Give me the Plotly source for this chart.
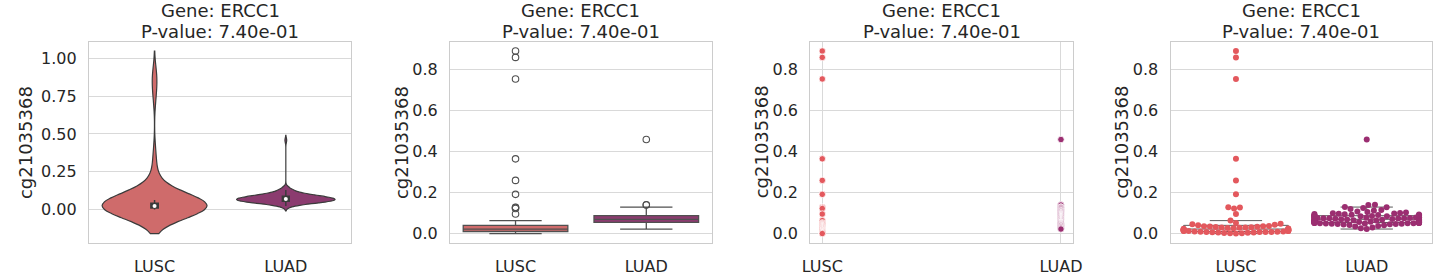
import numpy as np
import plotly.graph_objects as go

# ---------------- data ----------------
categories = ["LUSC", "LUAD"]
gene = "ERCC1"
probe = "cg21035368"
p_value_text = "7.40e-01"

lusc_values = [
    0.889, 0.858, 0.753, 0.364, 0.259, 0.191, 0.128, 0.127, 0.122, 0.095,
    0.063, 0.052, 0.048, 0.045, 0.043, 0.040,
    0.037, 0.036, 0.035, 0.034, 0.033, 0.032, 0.031, 0.030, 0.029, 0.028,
    0.027, 0.026, 0.025, 0.024, 0.023,
    0.021, 0.020, 0.020, 0.019, 0.018, 0.018, 0.017, 0.016, 0.015, 0.015,
    0.014, 0.013, 0.013, 0.012, 0.012,
    0.010, 0.010, 0.009, 0.009, 0.008, 0.008, 0.007, 0.007, 0.006, 0.005,
    0.005, 0.004, 0.003, 0.002, 0.001, 0.000,
]
luad_values = [
    0.458, 0.140, 0.139,
    0.129, 0.128, 0.125, 0.120, 0.115, 0.112, 0.108, 0.105, 0.102, 0.100,
    0.099, 0.098, 0.096, 0.095, 0.094, 0.093, 0.092, 0.091, 0.090, 0.089,
    0.088, 0.088,
    0.086, 0.086, 0.085, 0.084, 0.084, 0.083, 0.082, 0.081, 0.080, 0.080,
    0.079, 0.078, 0.078, 0.077, 0.076, 0.076, 0.075, 0.074, 0.074, 0.073,
    0.072, 0.072, 0.071, 0.071, 0.070,
    0.069, 0.069, 0.068, 0.067, 0.067, 0.066, 0.065, 0.065, 0.064, 0.063,
    0.063, 0.062, 0.061, 0.061, 0.060, 0.060, 0.059, 0.058, 0.058, 0.057,
    0.057, 0.056, 0.055, 0.055, 0.054,
    0.054, 0.053, 0.053, 0.052, 0.052, 0.051, 0.051, 0.050, 0.050, 0.050,
    0.049, 0.049, 0.048, 0.048, 0.047, 0.046, 0.045, 0.044, 0.042, 0.040,
    0.037, 0.034, 0.030, 0.026, 0.022,
]
violin_bandwidths = [0.08, 0.016]
violin_tickvals = [0.0, 0.25, 0.5, 0.75, 1.0]
other_tickvals = [0.0, 0.2, 0.4, 0.6, 0.8]

series = [lusc_values, luad_values]

# ---------------- style ----------------
W, H = 1450, 276
FONT = "DejaVu Sans"
TXT = "#262626"
GRID = "#d9d9d9"
SPINE = "#cccccc"
point_colors = ["#e3585d", "#9b2e71"]
fill_colors = ["#cf6b6b", "#8b3b6f"]
panels_px = [(81, 347), (447, 712), (812, 1078), (1177, 1442)]
top_px, bot_px = 43, 249


def px2x(p):
    return p / W


def px2y(p):
    return 1 - p / H


fig = go.Figure()

# y ranges
vmin = min(min(s) for s in series)
vmax = max(max(s) for s in series)
v_lo = min(min(s) - 2 * bw for s, bw in zip(series, violin_bandwidths))
v_hi = max(max(s) + 2 * bw for s, bw in zip(series, violin_bandwidths))
pad1 = 0.05 * (v_hi - v_lo)
range1 = [v_lo - pad1, v_hi + pad1]
pad2 = 0.05 * (vmax - vmin)
range2 = [vmin - pad2, vmax + pad2]

# ---- panel 1: violin ----
violin_widths = [0.8, 0.75]
for i, vals in enumerate(series):
    fig.add_trace(go.Violin(
        x=[i] * len(vals), y=vals, xaxis="x", yaxis="y",
        width=violin_widths[i], scalemode="width", bandwidth=violin_bandwidths[i],
        spanmode="soft", points=False, fillcolor=fill_colors[i],
        line=dict(color="#3b3b3b", width=1.2),
        box=dict(visible=True, width=0.07, fillcolor="#3b3b3b",
                 line=dict(color="#3b3b3b", width=1.5)),
        meanline=dict(visible=False), hoverinfo="skip", showlegend=False,
    ))
    fig.add_trace(go.Scatter(
        x=[i], y=[float(np.median(vals))], mode="markers", xaxis="x", yaxis="y",
        marker=dict(color="white", size=4), showlegend=False, hoverinfo="skip"))

# ---- panel 2: box ----
for i, vals in enumerate(series):
    fig.add_trace(go.Box(
        x=[i] * len(vals), y=vals, xaxis="x2", yaxis="y2", width=0.8,
        fillcolor=fill_colors[i], line=dict(color="#505050", width=1.3),
        whiskerwidth=0.5, boxpoints="outliers",
        marker=dict(symbol="circle-open", size=6.5, color="#505050",
                    line=dict(width=1.1)),
        showlegend=False, hoverinfo="skip",
    ))

# ---- panel 3: scatter at category positions ----
for i, vals in enumerate(series):
    fig.add_trace(go.Scatter(
        x=[i] * len(vals), y=vals, mode="markers", xaxis="x3", yaxis="y3",
        marker=dict(color=point_colors[i], size=6.5,
                    line=dict(color="white", width=0.8)),
        showlegend=False, hoverinfo="skip"))


# ---- panel 4: box + swarm ----
def beeswarm(vals, center, xscale, yscale, d, half_width):
    vals = np.asarray(vals, dtype=float)
    order = np.argsort(vals, kind="stable")
    placed = []
    xs = np.zeros(len(vals))
    for idx in order:
        y = vals[idx] * yscale
        cands = [0.0]
        for (px, py) in placed:
            dy = abs(py - y)
            if dy < d:
                dx = np.sqrt(d * d - dy * dy)
                cands += [px - dx, px + dx]
        cands = sorted(cands, key=abs)
        chosen = cands[-1]
        for c in cands:
            ok = True
            for (px, py) in placed:
                if (px - c) ** 2 + (py - y) ** 2 < d * d - 1e-6:
                    ok = False
                    break
            if ok:
                chosen = c
                break
        placed.append((chosen, y))
        xs[idx] = chosen
    return np.clip(xs / xscale, -half_width, half_width) + center


pw4 = panels_px[3][1] - panels_px[3][0]
xscale4 = pw4 / 2.0
yscale4 = (bot_px - top_px) / (range2[1] - range2[0])
for i, vals in enumerate(series):
    fig.add_trace(go.Box(
        x=[i] * len(vals), y=vals, xaxis="x4", yaxis="y4", width=0.8,
        fillcolor="rgba(0,0,0,0)", line=dict(color="#5a5a5a", width=1.0),
        whiskerwidth=0.5, boxpoints="outliers",
        marker=dict(opacity=0, size=1),
        showlegend=False, hoverinfo="skip"))
for i, vals in enumerate(series):
    xs = beeswarm(vals, i, xscale4, yscale4, 6.0, 0.4)
    fig.add_trace(go.Scatter(
        x=xs, y=vals, mode="markers", xaxis="x4", yaxis="y4",
        marker=dict(color=point_colors[i], size=6, line=dict(width=0)),
        showlegend=False, hoverinfo="skip"))

# ---------------- axes ----------------
tickfont = dict(family=FONT, size=16, color=TXT)
layout = dict(
    width=W, height=H, margin=dict(l=0, r=0, t=0, b=0),
    paper_bgcolor="white", plot_bgcolor="white",
    font=dict(family=FONT, color=TXT), showlegend=False,
)
annotations = []
for k, (l, r) in enumerate(panels_px):
    sfx = "" if k == 0 else str(k + 1)
    xr = [-0.05, 1.05] if k == 2 else [-0.5, 1.5]
    layout["xaxis" + sfx] = dict(
        domain=[px2x(l), px2x(r)], anchor="y" + sfx, range=xr,
        tickmode="array", tickvals=[0, 1], ticktext=categories,
        showgrid=(k == 2), gridcolor=GRID, gridwidth=1,
        showline=True, mirror=True, linecolor=SPINE, linewidth=1.3,
        zeroline=False, ticks="", tickfont=tickfont, ticklabelstandoff=9,
    )
    layout["yaxis" + sfx] = dict(
        domain=[px2y(bot_px), px2y(top_px)], anchor="x" + sfx,
        range=range1 if k == 0 else range2,
        tickmode="array", tickvals=violin_tickvals if k == 0 else other_tickvals,
        tickformat=".2f" if k == 0 else ".1f",
        showgrid=True, gridcolor=GRID, gridwidth=1,
        showline=True, mirror=True, linecolor=SPINE, linewidth=1.3,
        zeroline=False, ticks="", tickfont=tickfont, ticklabelstandoff=8,
    )
    cx = (l + r) / 2
    annotations.append(dict(
        text="Gene: " + gene, x=px2x(cx), y=px2y(11), xref="paper", yref="paper",
        xanchor="center", yanchor="middle", showarrow=False,
        font=dict(family=FONT, size=18, color=TXT)))
    annotations.append(dict(
        text="P-value: " + p_value_text, x=px2x(cx), y=px2y(32), xref="paper",
        yref="paper", xanchor="center", yanchor="middle", showarrow=False,
        font=dict(family=FONT, size=18, color=TXT)))
    ytitle_x = l - (64 if k == 0 else 50)
    annotations.append(dict(
        text=probe, x=px2x(ytitle_x), y=px2y((top_px + bot_px) / 2),
        xref="paper", yref="paper", xanchor="center", yanchor="middle",
        textangle=-90, showarrow=False,
        font=dict(family=FONT, size=18, color=TXT)))
layout["annotations"] = annotations
fig.update_layout(**layout)

fig.write_html(
    "out.html",
    config={"displayModeBar": False},
    post_script="document.body.style.margin='0';document.body.style.overflow='hidden';",
)
